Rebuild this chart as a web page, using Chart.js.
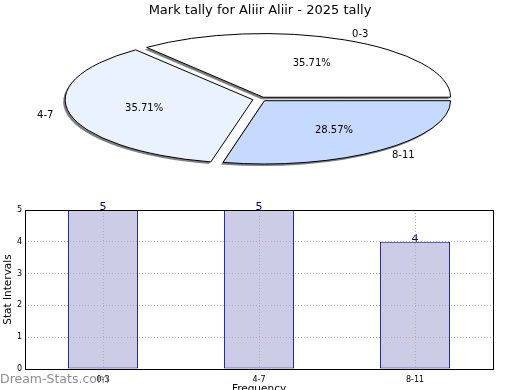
<!DOCTYPE html>
<html>
<head>
<meta charset="utf-8">
<script src="https://cdn.jsdelivr.net/npm/chart.js@4.4.1/dist/chart.umd.min.js"></script>
<style>
    html, body { margin: 0; padding: 0; background: #fff; overflow: hidden; }
    #wrap { position: relative; width: 520px; height: 390px; overflow: hidden; }
    canvas { position: absolute; left: 0; top: 0; }
</style>
</head>
<body>
<div id="wrap">
    <canvas id="barChart" width="520" height="398"></canvas>
    <canvas id="pieChart" width="520" height="390"></canvas>
</div>
<script>
// data
const categories = ['0-3', '4-7', '8-11'];
const tally = [5, 5, 4];
const yTicks = [0, 1, 2, 3, 4, 5];

const FONT = 'DejaVu Sans';

// where the squashed pie sits and how flat it is
const pieCenter = { x: 260.7, y: 99.1 };
const pieSquash = 0.34;

// stroke with an untransformed pen so the squash doesn't thin the edges,
// and without shadow (only the fill throws one)
const flatStroke = function () {
    this.save();
    this.setTransform(1, 0, 0, 1, 0, 0);
    this.shadowColor = 'rgba(0, 0, 0, 0)';
    CanvasRenderingContext2D.prototype.stroke.call(this);
    this.restore();
};

const squashPie = {
    id: 'squashPie',
    beforeDatasetsDraw(chart) {
        const ctx = chart.ctx;
        const first = chart.getDatasetMeta(0).data[0];
        ctx.save();
        ctx.translate(pieCenter.x, pieCenter.y);
        ctx.scale(-1, pieSquash);
        ctx.translate(-first.x, -first.y);
        ctx.shadowColor = 'rgba(0, 0, 0, 0.5)';
        ctx.shadowOffsetX = -2;
        ctx.shadowOffsetY = 2;
        ctx.stroke = flatStroke;
    },
    afterDatasetsDraw(chart) {
        const ctx = chart.ctx;
        delete ctx.stroke;
        const m = ctx.getTransform();
        const arcs = chart.getDatasetMeta(0).data;
        const values = chart.data.datasets[0].data;
        const total = values.reduce((a, b) => a + b, 0);
        const spots = arcs.map(function (el) {
            const a = (el.startAngle + el.endAngle) / 2;
            const off = (el.options.offset || 0) / 4;
            const sx = el.x + Math.cos(a) * off;
            const sy = el.y + Math.sin(a) * off;
            const R = el.outerRadius;
            return {
                label: m.transformPoint({ x: sx + Math.cos(a) * R * 1.1, y: sy + Math.sin(a) * R * 1.1 }),
                pct: m.transformPoint({ x: sx + Math.cos(a) * R * 0.6, y: sy + Math.sin(a) * R * 0.6 })
            };
        });
        ctx.restore();

        ctx.save();
        ctx.fillStyle = '#000';
        ctx.font = '10px "' + FONT + '"';
        ctx.textBaseline = 'middle';
        spots.forEach(function (s, i) {
            ctx.textAlign = s.label.x > pieCenter.x ? 'left' : 'right';
            ctx.fillText(chart.data.labels[i], s.label.x, s.label.y);
            ctx.textAlign = 'center';
            ctx.fillText((values[i] / total * 100).toFixed(2) + '%', s.pct.x, s.pct.y);
        });
        ctx.restore();
    }
};

const barExtras = {
    id: 'barExtras',
    afterDatasetsDraw(chart) {
        const ctx = chart.ctx;
        const meta = chart.getDatasetMeta(0);
        ctx.save();
        ctx.fillStyle = '#000080';
        ctx.font = '11px "' + FONT + '"';
        ctx.textAlign = 'center';
        ctx.textBaseline = 'alphabetic';
        meta.data.forEach(function (bar, i) {
            ctx.fillText(String(chart.data.datasets[0].data[i]), bar.x, bar.y);
        });
        ctx.restore();
    },
    afterDraw(chart) {
        const ctx = chart.ctx;
        const a = chart.chartArea;
        ctx.save();
        ctx.strokeStyle = '#000';
        ctx.lineWidth = 1;
        ctx.strokeRect(Math.round(a.left) + 0.5, Math.round(a.top) + 0.5,
            Math.round(a.right - a.left), Math.round(a.bottom - a.top));
        // watermark
        ctx.fillStyle = 'rgba(120, 120, 120, 0.85)';
        ctx.font = '12.5px "' + FONT + '"';
        ctx.textAlign = 'left';
        ctx.textBaseline = 'alphabetic';
        ctx.fillText('Dream-Stats.com', 0, 383);
        ctx.restore();
    }
};

// Pie chart - share of each mark band
const pieChart = new Chart(document.getElementById('pieChart'), {
    type: 'pie',
    data: {
        labels: categories,
        datasets: [{
            data: tally,
            backgroundColor: ['#ffffff', '#ebf2ff', '#c6d9ff'],
            borderColor: '#000000',
            borderWidth: 1,
            offset: [24, 32, 24],
            radius: 186,
            clip: false
        }]
    },
    options: {
        responsive: false,
        animation: false,
        events: [],
        rotation: 270,
        plugins: {
            legend: { display: false },
            tooltip: { enabled: false },
            title: {
                display: true,
                text: 'Mark tally for Aliir Aliir - 2025 tally',
                color: '#000',
                font: { family: FONT, size: 13, weight: 'normal' },
                padding: { top: 3, bottom: 0 }
            }
        }
    },
    plugins: [squashPie]
});

// Bar chart - tally per band
const barChart = new Chart(document.getElementById('barChart'), {
    type: 'bar',
    data: {
        labels: categories,
        datasets: [{
            data: tally,
            backgroundColor: '#ccccE6',
            borderColor: '#000080',
            borderWidth: 1,
            borderSkipped: false,
            barPercentage: 0.45,
            categoryPercentage: 1
        }]
    },
    options: {
        responsive: false,
        animation: false,
        events: [],
        layout: { padding: { top: 210, left: 0, right: 27, bottom: 0 } },
        plugins: {
            legend: { display: false },
            tooltip: { enabled: false }
        },
        scales: {
            x: {
                offset: true,
                grid: { z: 1, offset: false, color: '#b0b0b0', drawTicks: false },
                border: { display: false, dash: [1, 2] },
                ticks: { color: '#000', font: { family: FONT, size: 8 }, padding: 6 },
                title: {
                    display: true,
                    text: 'Frequency',
                    color: '#000',
                    font: { family: FONT, size: 10.5 },
                    padding: { top: 0, bottom: 2 }
                },
                afterFit: function (scale) { scale.height = 29; }
            },
            y: {
                min: 0,
                max: 5,
                afterBuildTicks: function (scale) {
                    scale.ticks = yTicks.map(v => ({ value: v }));
                },
                grid: { z: 1, color: '#b0b0b0', drawTicks: false },
                border: { display: false, dash: [1, 2] },
                ticks: { color: '#000', font: { family: FONT, size: 8 }, padding: 3 },
                title: {
                    display: true,
                    text: 'Stat Intervals',
                    color: '#000',
                    font: { family: FONT, size: 10.5 },
                    padding: { top: 2, bottom: 0 }
                },
                afterFit: function (scale) { scale.width = 25; }
            }
        }
    },
    plugins: [barExtras]
});
</script>
</body>
</html>
